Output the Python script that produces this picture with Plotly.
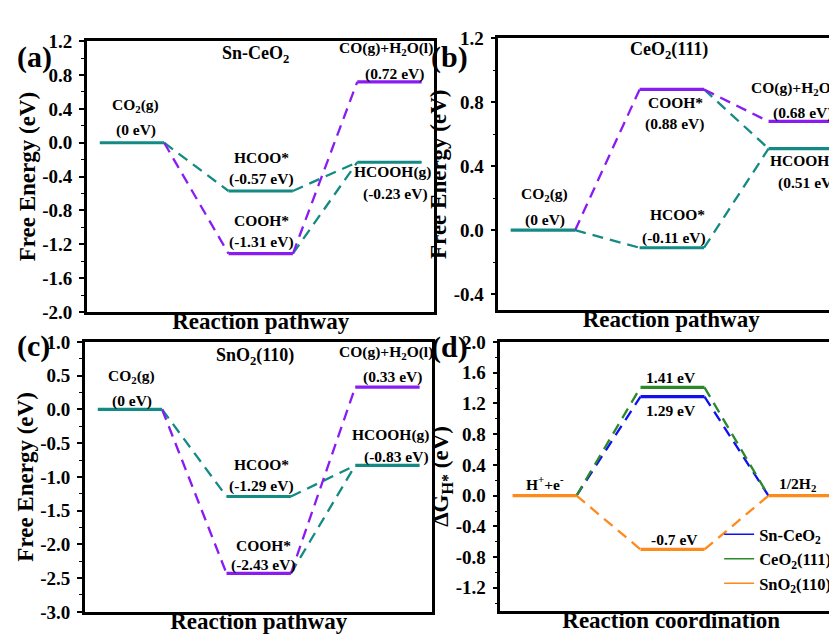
import plotly.graph_objects as go

W, H = 837, 640

# ---------------- data ----------------
panel_names = ["Sn-CeO<sub>2</sub>", "CeO<sub>2</sub>(111)", "SnO<sub>2</sub>(110)"]
co2_energy = [0.0, 0.0, 0.0]
hcoo_energy = [-0.57, -0.11, -1.29]
cooh_energy = [-1.31, 0.88, -2.43]
hcooh_energy = [-0.23, 0.51, -0.83]
co_energy = [0.72, 0.68, 0.33]

her_names = ["Sn-CeO<sub>2</sub>", "CeO<sub>2</sub>(111)", "SnO<sub>2</sub>(110)"]
her_dg = [1.29, 1.41, -0.70]
her_start = 0.0
her_end = 0.0

yticks_a = [1.2, 0.8, 0.4, 0.0, -0.4, -0.8, -1.2, -1.6, -2.0]
yticks_b = [1.2, 0.8, 0.4, 0.0, -0.4]
yticks_c = [1.0, 0.5, 0.0, -0.5, -1.0, -1.5, -2.0, -2.5, -3.0]
yticks_d = [2.0, 1.6, 1.2, 0.8, 0.4, 0.0, -0.4, -0.8, -1.2]
minor_a = [1.0, 0.6, 0.2, -0.2, -0.6, -1.0, -1.4, -1.8]
minor_b = [1.0, 0.6, 0.2, -0.2]
minor_c = [0.75, 0.25, -0.25, -0.75, -1.25, -1.75, -2.25, -2.75]
minor_d = [1.8, 1.4, 1.0, 0.6, 0.2, -0.2, -0.6, -1.0, -1.4]

# ---------------- style ----------------
TEAL = "#148a84"
PURPLE = "#8a1cf2"
BLUE = "#1010f0"
GREEN = "#2a8a2a"
ORANGE = "#ff8a1c"
FONT = "Liberation Serif"
LEVEL_W = 3.2
DASH_W = 2.3
DASH = "11px,7px"

# level x positions (state index -> segment)
seg = {0: (0, 1), 1: (2, 3), 2: (4, 5)}

fig = go.Figure()


def levels(states):
    xs, ys = [], []
    for i, v in states:
        a, b = seg[i]
        xs += [a, b, None]
        ys += [v, v, None]
    return xs, ys


def links(pairs):
    xs, ys = [], []
    for (i, v1), (j, v2) in pairs:
        xs += [seg[i][1], seg[j][0], None]
        ys += [v1, v2, None]
    return xs, ys


axes_ids = [("x", "y"), ("x2", "y2"), ("x3", "y3")]
for k, (xa, ya) in enumerate(axes_ids):
    c0, hc, ch, hh, co = co2_energy[k], hcoo_energy[k], cooh_energy[k], hcooh_energy[k], co_energy[k]
    tx, ty = links([((0, c0), (1, hc)), ((1, hc), (2, hh)), ((1, ch), (2, hh))])
    fig.add_trace(go.Scatter(x=tx, y=ty, mode="lines", xaxis=xa, yaxis=ya, showlegend=False,
                             line=dict(color=TEAL, width=DASH_W, dash=DASH), hoverinfo="skip"))
    px_, py_ = links([((0, c0), (1, ch)), ((1, ch), (2, co))])
    fig.add_trace(go.Scatter(x=px_, y=py_, mode="lines", xaxis=xa, yaxis=ya, showlegend=False,
                             line=dict(color=PURPLE, width=DASH_W, dash=DASH), hoverinfo="skip"))
    lx, ly = levels([(0, c0), (1, hc), (2, hh)])
    fig.add_trace(go.Scatter(x=lx, y=ly, mode="lines", xaxis=xa, yaxis=ya, showlegend=False,
                             line=dict(color=TEAL, width=LEVEL_W), hoverinfo="skip"))
    lx, ly = levels([(1, ch), (2, co)])
    fig.add_trace(go.Scatter(x=lx, y=ly, mode="lines", xaxis=xa, yaxis=ya, showlegend=False,
                             line=dict(color=PURPLE, width=LEVEL_W), hoverinfo="skip"))

# panel d (HER)
her_colors = [BLUE, GREEN, ORANGE]
for name, dg, col in zip(her_names, her_dg, her_colors):
    dx, dy = links([((0, her_start), (1, dg)), ((1, dg), (2, her_end))])
    fig.add_trace(go.Scatter(x=dx, y=dy, mode="lines", xaxis="x4", yaxis="y4", showlegend=False,
                             line=dict(color=col, width=DASH_W, dash=DASH), hoverinfo="skip"))
for name, dg, col in zip(her_names, her_dg, her_colors):
    pts = [(1, dg)]
    if col == ORANGE:
        pts = [(0, her_start), (1, dg), (2, her_end)]
    lx, ly = levels(pts)
    fig.add_trace(go.Scatter(x=lx, y=ly, mode="lines", xaxis="x4", yaxis="y4", showlegend=False,
                             line=dict(color=col, width=LEVEL_W), hoverinfo="skip"))
for name, col in zip(her_names, her_colors):
    fig.add_trace(go.Scatter(x=[None], y=[None], mode="lines", xaxis="x4", yaxis="y4", name=name,
                             line=dict(color=col, width=1.6)))

# ---------------- axes ----------------
def dom(px0, px1, W_):
    return [max(0, px0 / W_), min(1, px1 / W_)]


def ydom(py_top, py_bot):
    return [1 - py_bot / H, 1 - py_top / H]


def fmt(v):
    return f"{v:.1f}".replace("-0.0", "0.0")


def yaxis(rng, ticks, minor, title, dom_, right_mirror=True):
    return dict(domain=dom_, range=rng, tickmode="array", tickvals=ticks, ticktext=[fmt(t) for t in ticks],
                ticks="outside", ticklen=5, tickwidth=1.6, tickcolor="black", ticklabelstandoff=3,
                minor=dict(tickmode="array", tickvals=minor, ticks="outside", ticklen=3, tickwidth=1.4,
                           tickcolor="black"),
                showline=True, linecolor="black", linewidth=2.5, mirror=right_mirror,
                showgrid=False, zeroline=False,
                tickfont=dict(size=19, family=FONT, color="black", weight="bold"),
                title=dict(text=title, font=dict(size=23, family=FONT, color="black", weight="bold"),
                           standoff=1),
                fixedrange=True)


def xaxis(rng, dom_, title, anchor):
    return dict(domain=dom_, range=rng, showticklabels=False, ticks="", showgrid=False, zeroline=False,
                showline=True, linecolor="black", linewidth=2.5, mirror=True, anchor=anchor,
                title=dict(text=title, font=dict(size=23, family=FONT, color="black", weight="bold"),
                           standoff=0),
                fixedrange=True)


layout = dict(
    width=W, height=H, margin=dict(l=0, r=0, t=0, b=0),
    paper_bgcolor="white", plot_bgcolor="white",
    font=dict(family=FONT, color="black", weight="bold"),
    showlegend=True,
    legend=dict(x=712 / W, y=1 - 516 / H, xanchor="left", yanchor="top", bgcolor="rgba(0,0,0,0)",
                font=dict(size=16.5, family=FONT, color="black", weight="bold"), tracegroupgap=0,
                itemwidth=30),
)

layout["xaxis"] = xaxis([-0.2, 5.2], dom(79, 427, W), "Reaction pathway", "y")
layout["yaxis"] = yaxis([-2.0, 1.2], yticks_a, minor_a, "Free Energy (eV)", ydom(24, 304))
layout["yaxis"]["anchor"] = "x"
layout["xaxis2"] = xaxis([-0.19, 5.17], dom(491, 837, W), "Reaction pathway", "y2")
layout["yaxis2"] = yaxis([-0.5, 1.2], yticks_b, minor_b, "Free Energy (eV)", ydom(21, 302), right_mirror=False)
layout["yaxis2"]["anchor"] = "x2"
layout["xaxis3"] = xaxis([-0.2, 5.2], dom(77, 425, W), "Reaction pathway", "y3")
layout["yaxis3"] = yaxis([-3.0, 1.0], yticks_c, minor_c, "Free Energy (eV)", ydom(335, 614))
layout["yaxis3"]["anchor"] = "x3"
layout["xaxis4"] = xaxis([-0.19, 5.15], dom(493, 835, W), "Reaction coordination", "y4")
layout["yaxis4"] = yaxis([-1.5, 2.0], yticks_d, minor_d, "ΔG<sub>H*</sub> (eV)", ydom(335, 613))
layout["yaxis4"]["anchor"] = "x4"
fig.update_layout(**layout)

# ---------------- annotations ----------------
def note(text, x, y, xref, yref, yshift=0, size=15.5, **kw):
    fig.add_annotation(text=text, x=x, y=y, xref=xref, yref=yref, yshift=yshift, showarrow=False,
                       xanchor="center", yanchor="middle",
                       font=dict(size=size, family=FONT, color="black", weight="bold"), **kw)


def ev(v):
    s = f"{v:.2f}".rstrip("0").rstrip(".") if v != 0 else "0"
    return f"({s} eV)"

# (a)
k = 0
note(panel_names[k], 0.486, 0.95, "x domain", "y domain", size=18)
note("CO<sub>2</sub>(g)", 0.56, co2_energy[k], "x", "y", 37)
note(ev(co2_energy[k]), 0.56, co2_energy[k], "x", "y", 13)
note("HCOO*", 2.52, hcoo_energy[k], "x", "y", 34)
note(ev(hcoo_energy[k]), 2.52, hcoo_energy[k], "x", "y", 12)
note("COOH*", 2.52, cooh_energy[k], "x", "y", 33)
note(ev(cooh_energy[k]), 2.52, cooh_energy[k], "x", "y", 12)
note("CO(g)+H<sub>2</sub>O(l)", 4.45, co_energy[k], "x", "y", 33)
note(ev(co_energy[k]), 4.58, co_energy[k], "x", "y", 8)
note("HCOOH(g)", 4.56, hcooh_energy[k], "x", "y", -10)
note(ev(hcooh_energy[k]), 4.6, hcooh_energy[k], "x", "y", -32)

# (b)
k = 1
note(panel_names[k], 0.494, 0.954, "x2 domain", "y2 domain", size=18)
note("CO<sub>2</sub>(g)", 0.53, co2_energy[k], "x2", "y2", 36)
note(ev(co2_energy[k]), 0.53, co2_energy[k], "x2", "y2", 10)
note("COOH*", 2.56, cooh_energy[k], "x2", "y2", -13)
note(ev(cooh_energy[k]), 2.54, cooh_energy[k], "x2", "y2", -35)
note("HCOO*", 2.58, hcoo_energy[k], "x2", "y2", 33)
note(ev(hcoo_energy[k]), 2.53, hcoo_energy[k], "x2", "y2", 10)
note("CO(g)+H<sub>2</sub>O(l)", 4.45, co_energy[k], "x2", "y2", 33)
note(ev(co_energy[k]), 4.52, co_energy[k], "x2", "y2", 8)
note("HCOOH(g)", 4.62, hcooh_energy[k], "x2", "y2", -12)
note(ev(hcooh_energy[k]), 4.61, hcooh_energy[k], "x2", "y2", -34)

# (c)
k = 2
note(panel_names[k], 0.49, 0.946, "x3 domain", "y3 domain", size=18)
note("CO<sub>2</sub>(g)", 0.52, co2_energy[k], "x3", "y3", 33)
note(ev(co2_energy[k]), 0.53, co2_energy[k], "x3", "y3", 8)
note("HCOO*", 2.55, hcoo_energy[k], "x3", "y3", 32)
note(ev(hcoo_energy[k]), 2.55, hcoo_energy[k], "x3", "y3", 10)
note("COOH*", 2.58, cooh_energy[k], "x3", "y3", 28)
note(ev(cooh_energy[k]), 2.58, cooh_energy[k], "x3", "y3", 8)
note("CO(g)+H<sub>2</sub>O(l)", 4.48, co_energy[k], "x3", "y3", 35)
note(ev(co_energy[k]), 4.58, co_energy[k], "x3", "y3", 10)
note("HCOOH(g)", 4.56, hcooh_energy[k], "x3", "y3", 30)
note(ev(hcooh_energy[k]), 4.64, hcooh_energy[k], "x3", "y3", 8)

# (d)
note(f"{her_dg[1]:.2f} eV", 2.47, her_dg[1], "x4", "y4", 10)
note(f"{her_dg[0]:.2f} eV", 2.47, her_dg[0], "x4", "y4", -14)
note(f"{her_dg[2]:.1f} eV", 2.53, her_dg[2], "x4", "y4", 10)
note("H<sup>+</sup>+e<sup>-</sup>", 0.5, her_start, "x4", "y4", 13)
note("1/2H<sub>2</sub>", 4.45, her_end, "x4", "y4", 11)

# panel letters
for lab, px, py in [("(a)", 27, 40), ("(b)", 442, 40), ("(c)", 26, 339), ("(d)", 442, 340)]:
    fig.add_annotation(text=lab, x=px / W, y=1 - py / H, xref="paper", yref="paper", showarrow=False,
                       xanchor="center", yanchor="middle",
                       font=dict(size=30, family=FONT, color="black", weight="bold"))

fig.write_html("out.html")
